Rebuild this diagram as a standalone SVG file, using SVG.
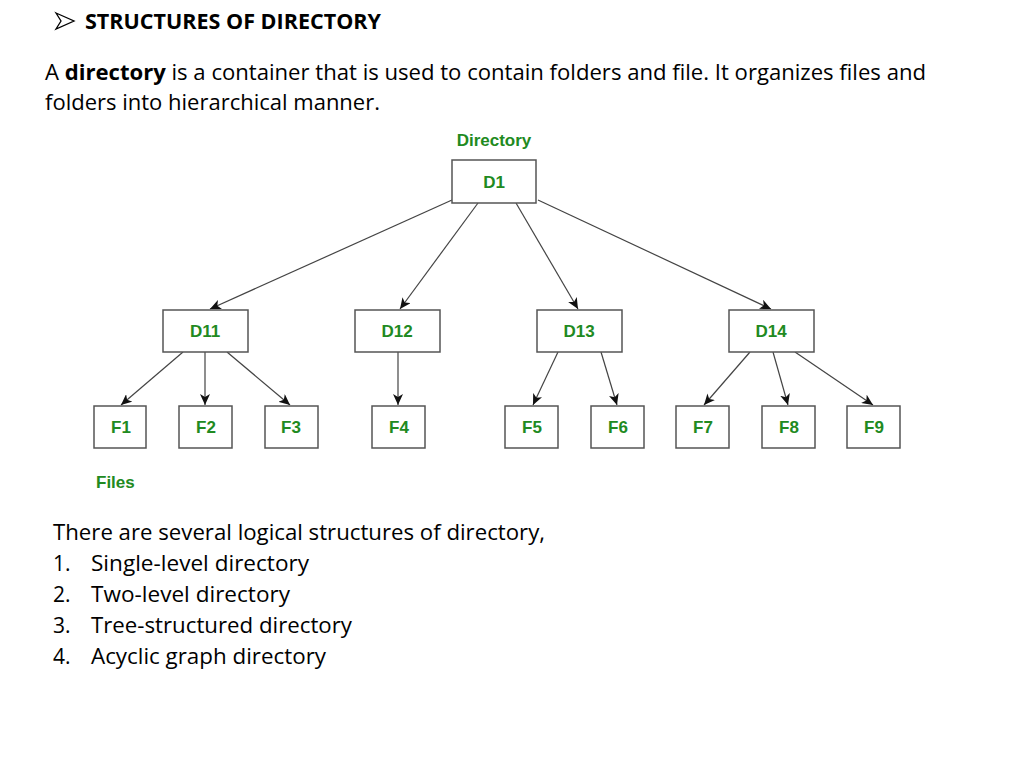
<svg xmlns="http://www.w3.org/2000/svg" width="1024" height="768" viewBox="0 0 1024 768">
<style>
.t{font-family:"Open Sans","Noto Sans",sans-serif;fill:#000}
.g{font-family:"Liberation Sans",Arial,sans-serif;font-weight:bold;fill:#218a21;font-size:17px;text-anchor:middle}
.box{fill:#fff;stroke:#555;stroke-width:1.5}
.e{stroke:#444;stroke-width:1.2;fill:none;marker-end:url(#ah)}
</style>
<defs>
<marker id="ah" markerWidth="12" markerHeight="10" refX="11" refY="5" orient="auto" markerUnits="userSpaceOnUse">
<path d="M0,0 L11,5 L0,10 L3,5 Z" fill="#111"/>
</marker>
</defs>
<rect width="1024" height="768" fill="#fff"/>
<path d="M56,13 L74,21 L56,29 L61,21 Z" fill="none" stroke="#000" stroke-width="1.3"/>
<text class="t" x="85" y="29" font-size="21" font-weight="bold" textLength="296" lengthAdjust="spacingAndGlyphs">STRUCTURES OF DIRECTORY</text>
<text class="t" x="45" y="80" font-size="21" textLength="881" lengthAdjust="spacingAndGlyphs">A <tspan font-weight="bold">directory</tspan> is a container that is used to contain folders and file. It organizes files and</text>
<text class="t" x="45" y="110" font-size="21" textLength="335" lengthAdjust="spacingAndGlyphs">folders into hierarchical manner.</text>
<text class="g" x="494" y="146">Directory</text>
<text class="g" x="96" y="488" style="text-anchor:start">Files</text>
<g id="connectors">
<line class="e" x1="452" y1="200" x2="210" y2="309"/>
<line class="e" x1="478" y1="203" x2="400" y2="309"/>
<line class="e" x1="516" y1="203" x2="578" y2="309"/>
<line class="e" x1="538" y1="200" x2="771" y2="309"/>
<line class="e" x1="183" y1="352" x2="121" y2="405"/>
<line class="e" x1="205" y1="352" x2="205" y2="405"/>
<line class="e" x1="227" y1="352" x2="290" y2="405"/>
<line class="e" x1="398" y1="352" x2="398" y2="405"/>
<line class="e" x1="558" y1="352" x2="533" y2="405"/>
<line class="e" x1="601" y1="352" x2="617" y2="405"/>
<line class="e" x1="750" y1="352" x2="704" y2="405"/>
<line class="e" x1="773" y1="352" x2="788" y2="405"/>
<line class="e" x1="795" y1="352" x2="873" y2="405"/>
</g>
<g id="D1"><rect class="box" x="452" y="160" width="84" height="43"/><text class="g" x="494" y="188">D1</text></g>
<g id="D11"><rect class="box" x="163" y="310" width="85" height="42"/><text class="g" x="205" y="337">D11</text></g>
<g id="D12"><rect class="box" x="355" y="310" width="85" height="42"/><text class="g" x="397" y="337">D12</text></g>
<g id="D13"><rect class="box" x="537" y="310" width="85" height="42"/><text class="g" x="579" y="337">D13</text></g>
<g id="D14"><rect class="box" x="729" y="310" width="85" height="42"/><text class="g" x="771" y="337">D14</text></g>
<g id="F1"><rect class="box" x="94" y="406" width="52" height="42"/><text class="g" x="121" y="433">F1</text></g>
<g id="F2"><rect class="box" x="179" y="406" width="53" height="42"/><text class="g" x="206" y="433">F2</text></g>
<g id="F3"><rect class="box" x="265" y="406" width="53" height="42"/><text class="g" x="291" y="433">F3</text></g>
<g id="F4"><rect class="box" x="372" y="406" width="53" height="42"/><text class="g" x="399" y="433">F4</text></g>
<g id="F5"><rect class="box" x="505" y="406" width="53" height="42"/><text class="g" x="532" y="433">F5</text></g>
<g id="F6"><rect class="box" x="591" y="406" width="53" height="42"/><text class="g" x="618" y="433">F6</text></g>
<g id="F7"><rect class="box" x="676" y="406" width="53" height="42"/><text class="g" x="703" y="433">F7</text></g>
<g id="F8"><rect class="box" x="762" y="406" width="53" height="42"/><text class="g" x="789" y="433">F8</text></g>
<g id="F9"><rect class="box" x="847" y="406" width="53" height="42"/><text class="g" x="874" y="433">F9</text></g>
<text class="t" x="53" y="540" font-size="21" textLength="492" lengthAdjust="spacingAndGlyphs">There are several logical structures of directory,</text>
<g class="t" font-size="21">
<text x="53" y="571">1.</text><text x="91" y="571" textLength="218" lengthAdjust="spacingAndGlyphs">Single-level directory</text>
<text x="53" y="602">2.</text><text x="91" y="602" textLength="199" lengthAdjust="spacingAndGlyphs">Two-level directory</text>
<text x="53" y="633">3.</text><text x="91" y="633" textLength="261" lengthAdjust="spacingAndGlyphs">Tree-structured directory</text>
<text x="53" y="664">4.</text><text x="91" y="664" textLength="235" lengthAdjust="spacingAndGlyphs">Acyclic graph directory</text>
</g>
</svg>
